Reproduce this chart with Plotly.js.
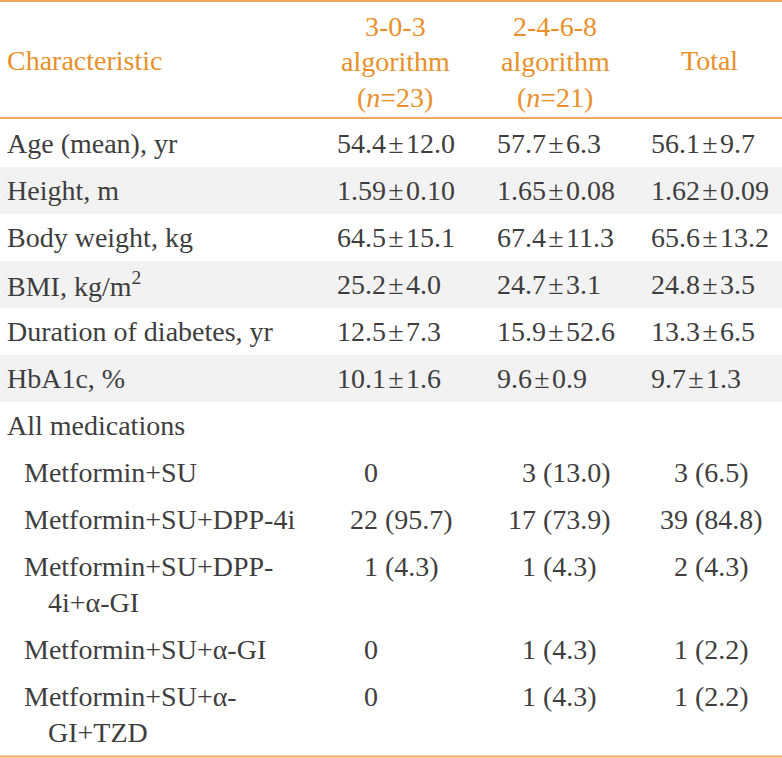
<!DOCTYPE html>
<html><head><meta charset="utf-8">
<script src="https://cdn.plot.ly/plotly-3.0.1.min.js"></script>
<style>body{margin:0;background:#fff}#chart{width:782px;height:758px}</style>
</head><body><div id="chart"></div>
<script>
// ---- data ----
const headers = ["Characteristic", "3-0-3<br>algorithm<br>(<i>n</i>=23)", "2-4-6-8<br>algorithm<br>(<i>n</i>=21)", "Total"];
const characteristics = ["Age (mean), yr", "Height, m", "Body weight, kg", "BMI, kg/m<sup>2</sup>", "Duration of diabetes, yr", "HbA1c, %"];
const algo303 = ["54.4±12.0", "1.59±0.10", "64.5±15.1", "25.2±4.0", "12.5±7.3", "10.1±1.6"];
const algo2468 = ["57.7±6.3", "1.65±0.08", "67.4±11.3", "24.7±3.1", "15.9±52.6", "9.6±0.9"];
const totals = ["56.1±9.7", "1.62±0.09", "65.6±13.2", "24.8±3.5", "13.3±6.5", "9.7±1.3"];
const medGroup = "All medications";
const medications = ["Metformin+SU", "Metformin+SU+DPP-4i", "Metformin+SU+DPP-|4i+α-GI", "Metformin+SU+α-GI", "Metformin+SU+α-|GI+TZD"];
const med303 = ["0", "22 (95.7)", "1 (4.3)", "0", "0"];
const med2468 = ["3 (13.0)", "17 (73.9)", "1 (4.3)", "1 (4.3)", "1 (4.3)"];
const medTotal = ["3 (6.5)", "39 (84.8)", "2 (4.3)", "1 (2.2)", "1 (2.2)"];

// ---- style / layout constants ----
const W = 782, H = 758;
const FONT = "Liberation Serif";
const FS = 28;
const ORANGE = "#E8902A";
const LINE = "#F2A75E";
const TEXT = "#3E3E3E";
const STRIPE = "#F2F2F2";
const ROW = 47, LINE2 = 36;
const headTop = 1, headBottom = 118;
const valueLeft = [336, 496, 650];
const countRight = [379, 537, 689];
const headCenter = [395, 555, 709];
const pm = s => s.replace("±", "\u200A±\u200A");

const annotations = [];
const shapes = [];
function txt(x, y, text, opts) {
  annotations.push(Object.assign({
    x: x, y: y, xref: "x", yref: "y", text: text, showarrow: false,
    xanchor: "left", yanchor: "middle", borderpad: 0,
    font: {family: FONT, size: FS, color: TEXT}
  }, opts || {}));
}
const orangeFont = {family: FONT, size: FS, color: ORANGE};

// header
txt(6, 60, headers[0], {font: orangeFont});
const headLines = [26, 61, 97];
for (let c = 1; c < headers.length; c++) {
  const parts = headers[c].split("<br>");
  if (parts.length === 1) {
    txt(headCenter[c - 1], 60, parts[0], {xanchor: "center", font: orangeFont});
  } else {
    parts.forEach((p, i) => txt(headCenter[c - 1], headLines[i], p, {xanchor: "center", font: orangeFont}));
  }
}

// numeric rows
let y = headBottom + 2;
characteristics.forEach((lab, i) => {
  if (i % 2 === 1) shapes.push({type: "rect", xref: "x", yref: "y", x0: 0, x1: W, y0: y, y1: y + ROW, fillcolor: STRIPE, line: {width: 0}, layer: "below"});
  const cy = y + ROW / 2;
  txt(6, cy, lab);
  [algo303, algo2468, totals].forEach((arr, c) => txt(valueLeft[c], cy, pm(arr[i])));
  y += ROW;
});

// medications
txt(6, y + ROW / 2, medGroup);
y += ROW;
medications.forEach((lab, i) => {
  const parts = lab.split("|");
  const cy = y + ROW / 2;
  txt(23, cy, parts[0]);
  if (parts.length > 1) txt(47, cy + LINE2, parts[1]);
  [med303, med2468, medTotal].forEach((arr, c) => {
    const sp = arr[i].split(" ");
    txt(countRight[c], cy, sp[0], {xanchor: "right"});
    if (sp.length > 1) txt(countRight[c] + 5, cy, sp[1]);
  });
  y += ROW + (parts.length > 1 ? LINE2 : 0);
});

// rules
[headTop, headBottom, H - 1.5].forEach(ly => shapes.push({type: "line", xref: "x", yref: "y", x0: 0, x1: W, y0: ly, y1: ly, line: {color: LINE, width: 2}}));

Plotly.newPlot("chart", [], {
  width: W, height: H,
  margin: {l: 0, r: 0, t: 0, b: 0},
  paper_bgcolor: "#fff", plot_bgcolor: "#fff",
  xaxis: {range: [0, W], visible: false, fixedrange: true},
  yaxis: {range: [H, 0], visible: false, fixedrange: true},
  showlegend: false,
  annotations: annotations, shapes: shapes
}, {staticPlot: true, displayModeBar: false});
</script>
</body></html>
